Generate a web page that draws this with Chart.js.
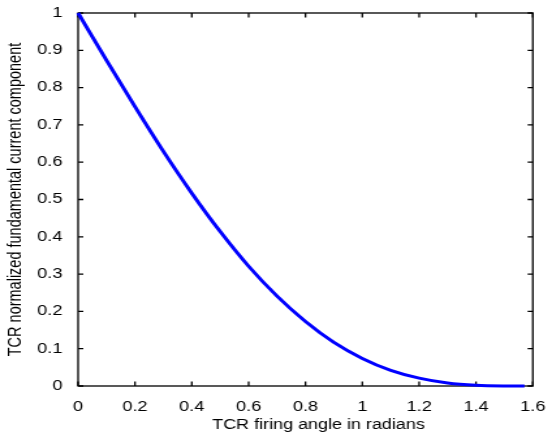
<!DOCTYPE html>
<html>
<head>
<meta charset="utf-8">
<script src="https://cdn.jsdelivr.net/npm/chart.js@4.4.0/dist/chart.umd.min.js"></script>
<style>
  html, body { margin: 0; padding: 0; background: #fff; }
  #tcrChart { display: block; width: 552px; height: 436px; }
</style>
</head>
<body>
<!-- the original figure is stretched sideways, so the canvas is drawn narrow and widened by css -->
<canvas id="tcrChart" width="424" height="436" style="width:552px;height:436px"></canvas>
<script>
// firing angle (rad) and normalized fundamental current
const firingAngle = [0, 0.1, 0.2, 0.3, 0.4, 0.5, 0.6, 0.7, 0.8, 0.9, 1.0, 1.1, 1.2, 1.3, 1.4, 1.5, 1.5708];
const currentComponent = [1, 0.873, 0.749, 0.629, 0.517, 0.414, 0.321, 0.241, 0.173, 0.117, 0.074, 0.042, 0.021, 0.008, 0.002, 0.0002, 0];

const xTicks = [0, 0.2, 0.4, 0.6, 0.8, 1, 1.2, 1.4, 1.6];
const yTicks = [0, 0.1, 0.2, 0.3, 0.4, 0.5, 0.6, 0.7, 0.8, 0.9, 1];

const xTitle = "TCR firing angle in radians";
const yTitle = "TCR normalized fundamental current component";

const fontFamily = "'Liberation Sans', Arial, sans-serif";

// matlab style box with ticks pointing inwards on all four sides
const boxTicks = {
    id: "boxTicks",
    beforeDatasetsDraw(chart) {
        const { ctx, chartArea: a, scales } = chart;
        const x = scales.x;
        const y = scales.y;
        ctx.save();
        ctx.strokeStyle = "#000";
        ctx.lineWidth = 1.3;
        ctx.strokeRect(a.left, a.top, a.right - a.left, a.bottom - a.top);
        ctx.beginPath();
        xTicks.forEach((v) => {
            const px = x.getPixelForValue(v);
            ctx.moveTo(px, a.bottom);
            ctx.lineTo(px, a.bottom - 4.5);
            ctx.moveTo(px, a.top);
            ctx.lineTo(px, a.top + 4.5);
        });
        yTicks.forEach((v) => {
            const py = y.getPixelForValue(v);
            ctx.moveTo(a.left, py);
            ctx.lineTo(a.left + 4, py);
            ctx.moveTo(a.right, py);
            ctx.lineTo(a.right - 4, py);
        });
        ctx.stroke();
        ctx.restore();
    },
    afterDraw(chart) {
        // x label sits a little right of the axis centre in the original
        const { ctx, chartArea: a } = chart;
        ctx.save();
        ctx.fillStyle = "#000";
        ctx.font = "13.8px " + fontFamily;
        ctx.textAlign = "center";
        ctx.textBaseline = "middle";
        ctx.fillText(xTitle, (a.left + a.right) / 2 + 10, 425.5);
        ctx.restore();
    },
};

const ctx = document.getElementById("tcrChart").getContext("2d");
new Chart(ctx, {
    type: "line",
    data: {
        datasets: [
            {
                data: firingAngle.map((a, i) => ({ x: a, y: currentComponent[i] })),
                borderColor: "#0000ff",
                borderWidth: 3,
                pointRadius: 0,
                cubicInterpolationMode: "monotone",
                fill: false,
                clip: false,
            },
        ],
    },
    options: {
        responsive: false,
        animation: false,
        layout: { padding: { top: 13, right: 8.5, left: 0, bottom: 0 } },
        plugins: {
            legend: { display: false },
            tooltip: { enabled: false },
        },
        scales: {
            x: {
                type: "linear",
                min: 0,
                max: 1.6,
                afterBuildTicks: (s) => { s.ticks = xTicks.map((v) => ({ value: v })); },
                afterFit: (s) => { s.height = 50; },
                grid: { display: false },
                border: { display: false },
                ticks: {
                    callback: (v) => String(v),
                    color: "#000",
                    padding: 5,
                    maxRotation: 0,
                    font: { family: fontFamily, size: 14 },
                },
            },
            y: {
                min: 0,
                max: 1,
                afterBuildTicks: (s) => { s.ticks = yTicks.map((v) => ({ value: v })); },
                afterFit: (s) => { s.width = 60; },
                grid: { display: false },
                border: { display: false },
                ticks: {
                    callback: (v) => String(v),
                    color: "#000",
                    padding: 4,
                    font: { family: fontFamily, size: 14 },
                },
                title: {
                    display: true,
                    text: yTitle,
                    color: "#000",
                    padding: { top: 3.5, bottom: 0 },
                    font: { family: fontFamily, size: 14.5 },
                },
            },
        },
    },
    plugins: [boxTicks],
});
</script>
</body>
</html>
